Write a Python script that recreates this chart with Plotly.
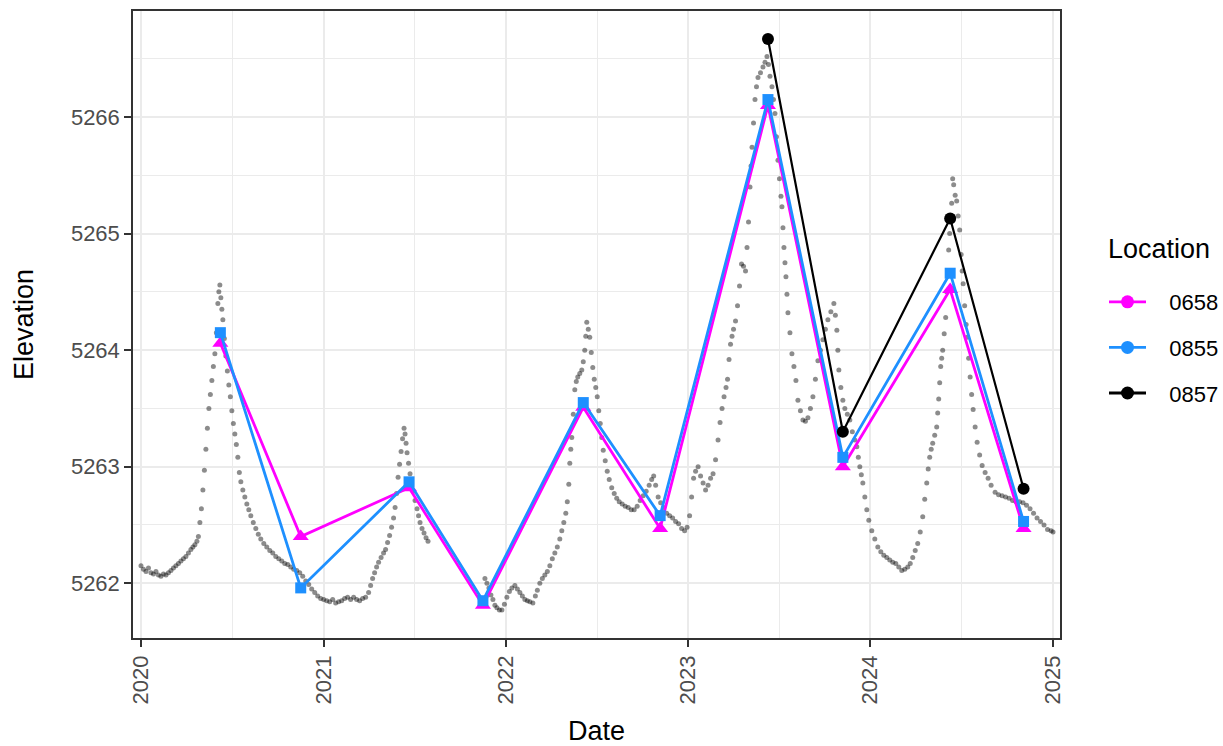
import plotly.graph_objects as go

# ---- survey data (three locations) ----
survey_dates = ["2020-06-08", "2020-11-16", "2021-06-21", "2021-11-16", "2022-06-05",
                "2022-11-06", "2023-06-10", "2023-11-07", "2024-06-09", "2024-11-03"]
elev_0658 = [5264.06, 5262.40, 5262.82, 5261.81, 5263.51, 5262.47, 5266.10, 5263.00, 5264.52, 5262.47]
elev_0855 = [5264.15, 5261.96, 5262.87, 5261.85, 5263.55, 5262.58, 5266.15, 5263.08, 5264.66, 5262.53]
dates_0857 = ["2023-06-10", "2023-11-07", "2024-06-09", "2024-11-03"]
elev_0857 = [5266.67, 5263.30, 5265.13, 5262.81]

locations = ["0658", "0855", "0857"]
loc_colors = ["#FF00FF", "#1E90FF", "#000000"]

# ---- background gauge series ----
bg_dates = [
    "2020-01-01", "2020-01-06", "2020-01-11", "2020-01-16", "2020-01-21", "2020-01-26", "2020-01-31",
    "2020-02-05", "2020-02-10", "2020-02-15", "2020-02-20", "2020-02-25", "2020-03-01", "2020-03-06",
    "2020-03-11", "2020-03-16", "2020-03-21", "2020-03-26", "2020-03-31", "2020-04-05", "2020-04-10",
    "2020-04-14", "2020-04-18", "2020-04-22", "2020-04-25", "2020-04-28", "2020-05-01", "2020-05-04",
    "2020-05-07", "2020-05-10", "2020-05-13", "2020-05-16", "2020-05-19", "2020-05-22", "2020-05-25",
    "2020-05-28", "2020-05-31", "2020-06-03", "2020-06-05", "2020-06-07", "2020-06-09", "2020-06-11",
    "2020-06-13", "2020-06-16", "2020-06-19", "2020-06-22", "2020-06-25", "2020-06-28", "2020-07-01",
    "2020-07-04", "2020-07-07", "2020-07-10", "2020-07-13", "2020-07-16", "2020-07-19", "2020-07-23",
    "2020-07-27", "2020-07-31", "2020-08-04", "2020-08-08", "2020-08-13", "2020-08-18", "2020-08-23",
    "2020-08-28", "2020-09-03", "2020-09-09", "2020-09-15", "2020-09-21", "2020-09-27", "2020-10-03",
    "2020-10-09", "2020-10-15", "2020-10-21", "2020-10-27", "2020-11-02", "2020-11-08", "2020-11-14",
    "2020-11-20", "2020-11-26", "2020-12-02", "2020-12-08", "2020-12-14", "2020-12-20", "2020-12-26",
    "2021-01-01", "2021-01-07", "2021-01-13", "2021-01-19", "2021-01-25", "2021-01-31", "2021-02-06",
    "2021-02-12", "2021-02-18", "2021-02-24", "2021-03-02", "2021-03-08", "2021-03-14", "2021-03-20",
    "2021-03-26", "2021-04-01", "2021-04-05", "2021-04-09", "2021-04-13", "2021-04-17", "2021-04-21",
    "2021-04-26", "2021-05-01", "2021-05-05", "2021-05-09", "2021-05-13", "2021-05-17", "2021-05-21",
    "2021-05-24", "2021-05-27", "2021-05-30", "2021-06-02", "2021-06-05", "2021-06-08", "2021-06-11",
    "2021-06-13", "2021-06-15", "2021-06-17", "2021-06-20", "2021-06-23", "2021-06-26", "2021-06-29",
    "2021-07-03", "2021-07-07", "2021-07-10", "2021-07-13", "2021-07-17", "2021-07-21", "2021-07-25",
    "2021-07-29",
    "2021-11-20", "2021-11-24", "2021-11-28", "2021-12-02", "2021-12-06", "2021-12-10", "2021-12-14",
    "2021-12-19", "2021-12-24", "2021-12-29",
    "2022-01-03", "2022-01-08", "2022-01-13", "2022-01-19", "2022-01-24", "2022-01-29", "2022-02-03",
    "2022-02-08", "2022-02-13", "2022-02-18", "2022-02-24", "2022-03-01", "2022-03-05", "2022-03-10",
    "2022-03-15", "2022-03-20", "2022-03-25", "2022-03-30", "2022-04-04", "2022-04-09", "2022-04-14",
    "2022-04-19", "2022-04-23", "2022-04-27", "2022-05-01", "2022-05-04", "2022-05-07", "2022-05-09",
    "2022-05-11", "2022-05-13", "2022-05-16", "2022-05-19", "2022-05-22", "2022-05-25", "2022-05-29",
    "2022-06-02", "2022-06-05", "2022-06-08", "2022-06-10", "2022-06-12", "2022-06-15", "2022-06-18",
    "2022-06-21", "2022-06-24", "2022-06-27", "2022-06-30", "2022-07-03", "2022-07-06", "2022-07-09",
    "2022-07-12", "2022-07-15", "2022-07-19", "2022-07-23", "2022-07-27", "2022-08-01", "2022-08-06",
    "2022-08-11", "2022-08-16", "2022-08-22", "2022-08-28", "2022-09-03", "2022-09-09", "2022-09-15",
    "2022-09-21", "2022-09-27", "2022-10-03", "2022-10-09", "2022-10-15", "2022-10-20", "2022-10-24",
    "2022-10-28", "2022-11-02", "2022-11-07", "2022-11-13", "2022-11-19", "2022-11-25", "2022-12-01",
    "2022-12-07", "2022-12-13", "2022-12-19", "2022-12-25", "2022-12-30",
    "2023-01-04", "2023-01-08", "2023-01-12", "2023-01-16", "2023-01-21", "2023-01-26", "2023-01-31",
    "2023-02-05", "2023-02-10", "2023-02-15", "2023-02-20", "2023-02-25", "2023-03-02", "2023-03-06",
    "2023-03-10", "2023-03-14", "2023-03-18", "2023-03-21", "2023-03-24", "2023-03-27", "2023-03-30",
    "2023-04-02", "2023-04-06", "2023-04-10", "2023-04-14", "2023-04-18", "2023-04-22", "2023-04-26",
    "2023-04-29", "2023-05-02", "2023-05-05", "2023-05-07", "2023-05-09", "2023-05-12", "2023-05-15",
    "2023-05-18", "2023-05-21", "2023-05-26", "2023-05-31", "2023-06-04", "2023-06-08", "2023-06-11",
    "2023-06-14", "2023-06-18", "2023-06-21", "2023-06-24", "2023-06-27", "2023-06-30", "2023-07-03",
    "2023-07-06", "2023-07-08", "2023-07-10", "2023-07-12", "2023-07-14", "2023-07-16", "2023-07-18",
    "2023-07-20", "2023-07-24", "2023-07-28", "2023-08-01", "2023-08-05", "2023-08-09", "2023-08-14",
    "2023-08-19", "2023-08-24", "2023-08-29", "2023-09-03", "2023-09-08", "2023-09-13", "2023-09-18",
    "2023-09-23", "2023-09-28", "2023-10-03", "2023-10-08", "2023-10-14", "2023-10-20", "2023-10-23",
    "2023-10-26", "2023-10-28", "2023-10-30", "2023-11-03", "2023-11-07", "2023-11-11", "2023-11-16",
    "2023-11-21", "2023-11-26", "2023-12-01", "2023-12-05", "2023-12-08", "2023-12-11", "2023-12-14",
    "2023-12-17", "2023-12-21", "2023-12-25", "2023-12-29",
    "2024-01-04", "2024-01-10", "2024-01-16", "2024-01-22", "2024-01-28", "2024-02-03", "2024-02-09",
    "2024-02-15", "2024-02-21", "2024-02-27", "2024-03-04", "2024-03-10", "2024-03-16", "2024-03-21",
    "2024-03-26", "2024-03-31", "2024-04-05", "2024-04-10", "2024-04-15", "2024-04-19", "2024-04-23",
    "2024-04-26", "2024-04-29", "2024-05-02", "2024-05-05", "2024-05-09", "2024-05-13", "2024-05-15",
    "2024-05-17", "2024-05-19", "2024-05-21", "2024-05-23", "2024-05-25", "2024-05-28", "2024-05-31",
    "2024-06-02", "2024-06-04", "2024-06-06", "2024-06-08", "2024-06-10", "2024-06-12", "2024-06-14",
    "2024-06-16", "2024-06-19", "2024-06-22", "2024-06-25", "2024-06-28", "2024-07-01", "2024-07-03",
    "2024-07-05", "2024-07-08", "2024-07-11", "2024-07-13", "2024-07-16", "2024-07-19", "2024-07-22",
    "2024-07-25", "2024-07-29", "2024-08-02", "2024-08-07", "2024-08-12", "2024-08-18", "2024-08-24",
    "2024-08-30", "2024-09-07", "2024-09-14", "2024-09-21", "2024-09-28", "2024-10-05", "2024-10-12",
    "2024-10-19", "2024-10-26", "2024-11-02", "2024-11-09", "2024-11-16", "2024-11-23", "2024-11-30",
    "2024-12-07", "2024-12-14", "2024-12-21", "2024-12-28", "2025-01-01",
]
bg_elev = [
    5262.15, 5262.12, 5262.10, 5262.13, 5262.09, 5262.08, 5262.10,
    5262.07, 5262.06, 5262.08, 5262.07, 5262.09, 5262.11, 5262.13,
    5262.15, 5262.17, 5262.19, 5262.21, 5262.23, 5262.26, 5262.29,
    5262.31, 5262.33, 5262.36, 5262.40, 5262.52, 5262.64, 5262.80,
    5262.97, 5263.15, 5263.33, 5263.50, 5263.62, 5263.74, 5263.86,
    5263.97, 5264.15, 5264.40, 5264.50, 5264.56, 5264.45, 5264.35,
    5264.26, 5264.10, 5263.95, 5263.82, 5263.70, 5263.60, 5263.48,
    5263.37, 5263.28, 5263.19, 5263.08, 5262.95, 5262.87, 5262.80,
    5262.74, 5262.68, 5262.63, 5262.58, 5262.52, 5262.47, 5262.42,
    5262.38, 5262.34, 5262.31, 5262.28, 5262.26, 5262.23, 5262.21,
    5262.19, 5262.17, 5262.16, 5262.14, 5262.12, 5262.11, 5262.09,
    5262.06, 5262.02, 5261.99, 5261.95, 5261.92, 5261.89, 5261.87,
    5261.86, 5261.85, 5261.84, 5261.86, 5261.83, 5261.84, 5261.85,
    5261.87, 5261.88, 5261.86, 5261.88, 5261.86, 5261.85, 5261.87,
    5261.88, 5261.92, 5261.98, 5262.04, 5262.09, 5262.14, 5262.18,
    5262.22, 5262.26, 5262.29, 5262.35, 5262.41, 5262.48, 5262.56,
    5262.65, 5262.77, 5262.91, 5263.02, 5263.13, 5263.24, 5263.33,
    5263.28, 5263.20, 5263.12, 5263.03, 5262.94, 5262.86, 5262.79,
    5262.71, 5262.64, 5262.58, 5262.52, 5262.47, 5262.43, 5262.39,
    5262.36,
    5262.04, 5262.00, 5261.96, 5261.90, 5261.86, 5261.81, 5261.79,
    5261.77, 5261.77, 5261.82,
    5261.88, 5261.93, 5261.96, 5261.98, 5261.95, 5261.92, 5261.89,
    5261.86, 5261.85, 5261.84, 5261.83, 5261.89, 5261.94, 5262.00,
    5262.04, 5262.07, 5262.10, 5262.15, 5262.21, 5262.26, 5262.31,
    5262.38, 5262.45, 5262.52, 5262.60, 5262.70, 5262.85, 5263.03,
    5263.15, 5263.25, 5263.45, 5263.66, 5263.73, 5263.77, 5263.80,
    5263.83, 5263.90, 5264.00, 5264.12, 5264.24, 5264.18, 5264.11,
    5263.98, 5263.85, 5263.75, 5263.68, 5263.60, 5263.48, 5263.37,
    5263.25, 5263.14, 5263.05, 5262.96, 5262.89, 5262.82, 5262.77,
    5262.73, 5262.70, 5262.68, 5262.66, 5262.65, 5262.63, 5262.63,
    5262.66, 5262.71, 5262.75, 5262.79, 5262.84, 5262.89, 5262.92,
    5262.84, 5262.74, 5262.69, 5262.65, 5262.60, 5262.58, 5262.56,
    5262.53, 5262.51, 5262.47, 5262.45, 5262.48,
    5262.58, 5262.74, 5262.90, 5262.96, 5263.00, 5262.92, 5262.86,
    5262.80, 5262.84, 5262.90, 5262.94, 5263.06, 5263.23, 5263.38,
    5263.50, 5263.60, 5263.68, 5263.75, 5263.92, 5264.05, 5264.12,
    5264.18, 5264.25, 5264.38, 5264.55, 5264.74, 5264.72, 5264.68,
    5264.88, 5265.10, 5265.40, 5265.58, 5265.74, 5265.95, 5266.15,
    5266.26, 5266.34, 5266.38, 5266.43, 5266.47, 5266.52, 5266.45,
    5266.35, 5266.26, 5266.15, 5266.03, 5265.83, 5265.63, 5265.47,
    5265.32, 5265.23, 5265.05, 5264.88, 5264.75, 5264.63, 5264.48,
    5264.32, 5264.15, 5263.97, 5263.86, 5263.74, 5263.57, 5263.48,
    5263.40, 5263.39, 5263.42, 5263.50, 5263.60, 5263.75, 5263.91,
    5264.00, 5264.09, 5264.18, 5264.26, 5264.33, 5264.40, 5264.30,
    5264.17, 5264.00, 5263.83, 5263.68, 5263.57, 5263.50, 5263.45,
    5263.40, 5263.30, 5263.23, 5263.17, 5263.08, 5263.00, 5262.93,
    5262.86, 5262.74, 5262.63, 5262.54,
    5262.45, 5262.38, 5262.31, 5262.27, 5262.24, 5262.22, 5262.20,
    5262.18, 5262.17, 5262.14, 5262.11, 5262.12, 5262.14, 5262.17,
    5262.22, 5262.28, 5262.34, 5262.44, 5262.57, 5262.72, 5262.86,
    5262.98, 5263.08, 5263.15, 5263.20, 5263.27, 5263.34, 5263.46,
    5263.58, 5263.72, 5263.86, 5263.93, 5264.00, 5264.14, 5264.28,
    5264.50, 5264.68, 5264.86, 5265.00, 5265.14, 5265.26, 5265.47,
    5265.42, 5265.33, 5265.28, 5265.15, 5265.03, 5264.82, 5264.68,
    5264.57, 5264.38, 5264.22, 5264.11, 5263.93, 5263.77, 5263.62,
    5263.49, 5263.34, 5263.21, 5263.10, 5263.01, 5262.95, 5262.90,
    5262.84, 5262.78, 5262.76, 5262.75, 5262.74, 5262.73, 5262.71,
    5262.70, 5262.70, 5262.69, 5262.67, 5262.64, 5262.60, 5262.56,
    5262.53, 5262.50, 5262.46, 5262.45, 5262.44,
]

# ---- axis ticks ----
x_tick_vals = ["2020-01-01", "2021-01-01", "2022-01-01", "2023-01-01", "2024-01-01", "2025-01-01"]
x_tick_text = ["2020", "2021", "2022", "2023", "2024", "2025"]
x_minor_vals = ["2020-07-02", "2021-07-02 12:00", "2022-07-02 12:00", "2023-07-02 12:00", "2024-07-02"]
y_tick_vals = [5262, 5263, 5264, 5265, 5266]
y_minor_vals = [5261.5, 5262.5, 5263.5, 5264.5, 5265.5, 5266.5]

FONT = "Liberation Sans, Arial, sans-serif"
GRID = "#EBEBEB"
NBSP = "\u00a0"

fig = go.Figure()

fig.add_trace(go.Scatter(
    x=bg_dates, y=bg_elev, mode="markers",
    marker=dict(size=5, color="rgba(0,0,0,0.45)", line=dict(width=0)),
    showlegend=False, hoverinfo="skip"))

fig.add_trace(go.Scatter(
    x=survey_dates, y=elev_0658, mode="lines+markers", name="0658",
    line=dict(color=loc_colors[0], width=2.8),
    marker=dict(symbol="triangle-up", size=14, color=loc_colors[0]),
    showlegend=False))
fig.add_trace(go.Scatter(
    x=survey_dates, y=elev_0855, mode="lines+markers", name="0855",
    line=dict(color=loc_colors[1], width=2.8),
    marker=dict(symbol="square", size=11, color=loc_colors[1]),
    showlegend=False))
fig.add_trace(go.Scatter(
    x=dates_0857, y=elev_0857, mode="lines+markers", name="0857",
    line=dict(color=loc_colors[2], width=2.2),
    marker=dict(symbol="circle", size=12, color=loc_colors[2]),
    showlegend=False))

# legend-only entries (circle keys, as in the reference)
for name, col in zip(locations, loc_colors):
    fig.add_trace(go.Scatter(
        x=[None], y=[None], mode="lines+markers", name=NBSP * 3 + name, legendgroup=name,
        line=dict(color=col, width=2.8),
        marker=dict(symbol="circle", size=13, color=col),
        showlegend=True))

fig.update_layout(
    width=1223, height=746,
    margin=dict(l=133, r=163, t=11, b=108, autoexpand=False),
    paper_bgcolor="white", plot_bgcolor="white",
    font=dict(family=FONT, color="#000000"),
    showlegend=True,
    legend=dict(
        font=dict(size=22, color="#000000"),
        xref="container", yref="container",
        x=0.9027, y=1 - 281 / 746, xanchor="left", yanchor="top",
        bgcolor="rgba(0,0,0,0)", tracegroupgap=14, itemwidth=37,
    ),
    annotations=[dict(
        text="Location", xref="paper", yref="paper",
        x=(1106 - 133) / (1223 - 133 - 163), y=(746 - 108 - 249) / (746 - 11 - 108),
        xanchor="left", yanchor="middle", showarrow=False,
        font=dict(size=27, color="#000000", family=FONT),
    )],
)

fig.update_xaxes(
    type="date", range=["2019-12-16", "2025-01-15"], automargin=False,
    tickvals=x_tick_vals, ticktext=x_tick_text, tickangle=-90,
    tickfont=dict(size=22, color="#4D4D4D"),
    ticks="outside", ticklen=7, tickwidth=2, tickcolor="#333333",
    showgrid=True, gridcolor=GRID, gridwidth=2,
    minor=dict(tickvals=x_minor_vals, showgrid=True, gridcolor=GRID, gridwidth=1, ticks=""),
    showline=True, linecolor="#333333", linewidth=1.5, mirror=True,
    zeroline=False,
    title=dict(text="Date", font=dict(size=27, color="#000000"), standoff=29),
)
fig.update_yaxes(
    range=[5261.53, 5266.91], automargin=False,
    tickvals=y_tick_vals, ticktext=[str(v) for v in y_tick_vals],
    tickfont=dict(size=22, color="#4D4D4D"),
    ticks="outside", ticklen=7, tickwidth=2, tickcolor="#333333",
    showgrid=True, gridcolor=GRID, gridwidth=2,
    minor=dict(tickvals=y_minor_vals, showgrid=True, gridcolor=GRID, gridwidth=1, ticks=""),
    showline=True, linecolor="#333333", linewidth=1.5, mirror=True,
    zeroline=False,
    title=dict(text="Elevation", font=dict(size=27, color="#000000"), standoff=29),
)

fig.write_html("out.html", config={"displayModeBar": False},
               post_script="document.body.style.margin='0';")
